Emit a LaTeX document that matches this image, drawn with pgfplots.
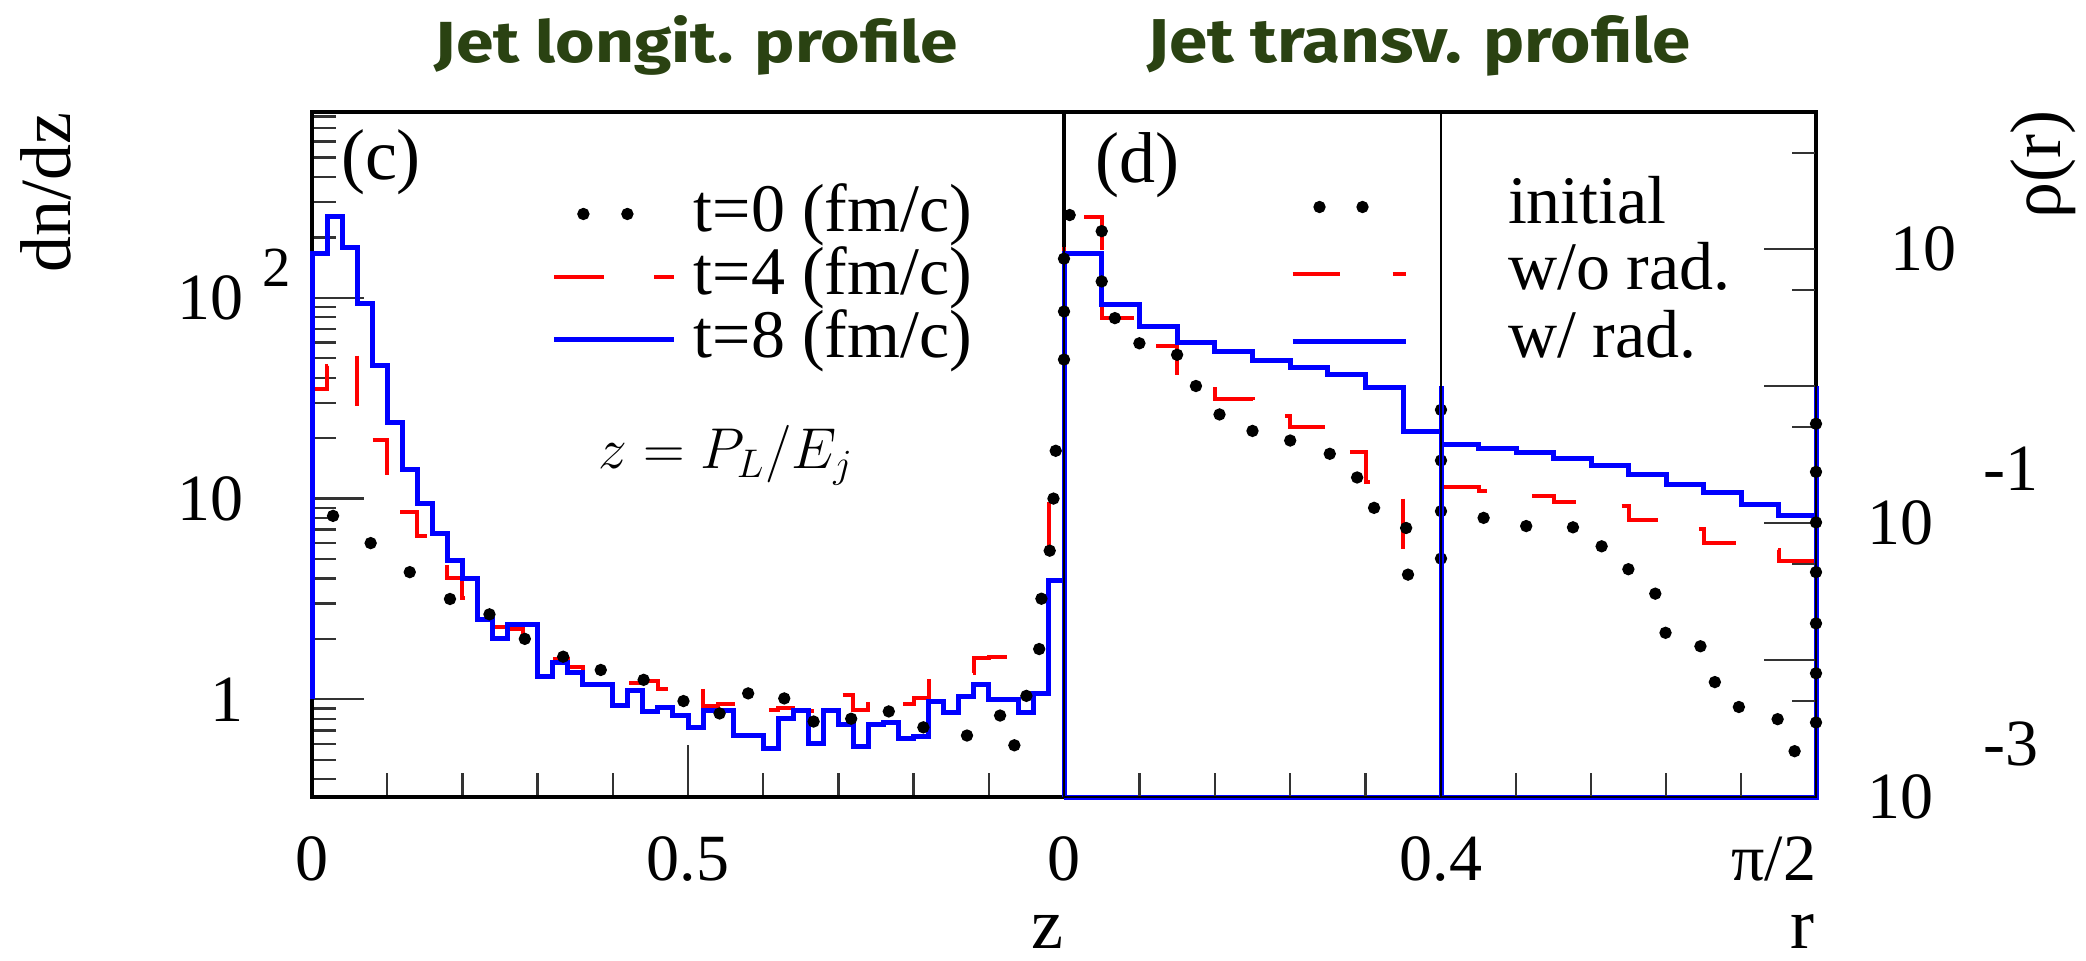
\documentclass[border=0pt]{standalone}
\usepackage{fontspec}
\setmainfont{Liberation Serif}
\newfontfamily\titlefont{Fira Sans}
\usepackage{graphicx}
\usepackage{pgfplots}
\pgfplotsset{compat=1.18}
\newlength\upx
\setlength\upx{0.3pt}
\definecolor{tgreen}{RGB}{42,66,18}
\newcommand\tickfont{\fontsize{19.8pt}{22pt}\selectfont}
\newcommand\labfont{\fontsize{21.6pt}{24pt}\selectfont}
\newcommand\legfont{\fontsize{20.4pt}{23pt}\selectfont}

\pgfplotsset{
  every axis/.append style={
    scale only axis, clip=false,
    tick align=inside,
    major tick length=52\upx, minor tick length=24\upx,
    every tick/.append style={line width=2.4\upx, black!80},
    xtick pos=left,
    xticklabel style={font=\tickfont, anchor=north, inner sep=0pt, yshift=-39\upx},
    yticklabel style={font=\tickfont, inner sep=0pt},
    legend cell align=left,
  },
  every axis legend/.append style={draw=none, fill=none, inner sep=0pt, outer sep=0pt, font=\legfont,
      anchor=north west, row sep=0pt},
  histb/.style={blue, line width=5\upx, const plot, forget plot},
  histr/.style={red, line width=4\upx, const plot, dash pattern=on 50\upx off 50\upx, forget plot},
  tdots/.style={only marks, mark=*, mark size=5.5\upx, mark options={draw=black, fill=black}, forget plot},
  dotsL/.style={legend image code/.code={
      \path[draw=none] (0pt,0pt) -- (120\upx,0pt);
      \fill[black] (29\upx,0pt) circle[radius=5.5\upx];
      \fill[black] (73\upx,0pt) circle[radius=5.5\upx];}},
  redL/.style={legend image code/.code={
      \draw[red, line width=4\upx, dash pattern=on 50\upx off 50\upx] (0pt,0pt) -- (120\upx,0pt);}},
  blueL/.style={legend image code/.code={
      \draw[blue, line width=5\upx] (0pt,0pt) -- (120\upx,0pt);}},
  dotsR/.style={legend image code/.code={
      \path[draw=none] (0pt,0pt) -- (113\upx,0pt);
      \fill[black] (27\upx,0pt) circle[radius=5.5\upx];
      \fill[black] (70\upx,0pt) circle[radius=5.5\upx];}},
  redR/.style={legend image code/.code={
      \draw[red, line width=4\upx, dash pattern=on 47\upx off 53\upx] (0pt,0pt) -- (113\upx,0pt);}},
  blueR/.style={legend image code/.code={
      \draw[blue, line width=5\upx] (0pt,0pt) -- (113\upx,0pt);}},
}

\begin{document}
\begin{tikzpicture}
\useasboundingbox (0,0) rectangle (2086\upx,960\upx);

% titles
\node[anchor=base west, inner sep=0pt, text=tgreen] at (434\upx,897\upx)
  {\resizebox{523\upx}{47\upx}{\titlefont\bfseries Jet longit. profile}};
\node[anchor=base west, inner sep=0pt, text=tgreen] at (1147\upx,897\upx)
  {\resizebox{543\upx}{47\upx}{\titlefont\bfseries Jet transv. profile}};

% outer frame of right panel
\draw[line width=4.5\upx] (1064\upx,163\upx) rectangle (1816\upx,848\upx);

% ---------------- left panel (c)
\begin{axis}[at={(312\upx,163\upx)}, anchor=south west, width=752\upx, height=685\upx,
  ymode=log,
  xmin=0, xmax=1, ymin=0.326, ymax=843,
  axis line style={line width=4\upx},
  xtick={0,0.5}, xticklabels={0,0.5},
  minor xtick={0.1,0.2,0.3,0.4,0.6,0.7,0.8,0.9},
  ytick pos=left,
  ytick={1,10,100},
  yticklabels={1,10,{10\rlap{\smash{\hspace{19\upx}\raisebox{33\upx}{\fontsize{17pt}{17pt}\selectfont 2}}}}},
  minor ytick={0.4,0.5,0.6,0.7,0.8,0.9,2,3,4,5,6,7,8,9,20,30,40,50,60,70,80,90,200,300,400,500,600,700,800},
  yticklabel style={anchor=east, xshift=-68\upx},
  legend style={at={(0.319,0.8964)}, anchor=north west, column sep=17\upx,
    nodes={inner sep=0pt, text height=49\upx, text depth=13\upx}},
  legend style={row sep=1\upx},
]
% t=4 (fm/c)
\addplot[histr] coordinates {
(0,1) (0,35) (0.02,46) (0.04,55) (0.06,27) (0.08,19.6) (0.10,12.2) (0.12,8.6) (0.14,6.5)
(0.16,5.4) (0.18,4.0) (0.20,3.2) (0.22,2.6) (0.24,2.3) (0.26,2.25) (0.28,1.62) (0.30,1.62)
(0.32,1.58) (0.34,1.45) (0.36,1.26) (0.38,1.26) (0.40,1.24) (0.42,1.2) (0.44,1.24) (0.46,1.12)
(0.48,1.15) (0.50,1.22) (0.52,0.93) (0.54,0.95) (0.56,1.0) (0.58,1.0) (0.60,0.88) (0.62,0.9)
(0.64,0.88) (0.66,0.87) (0.68,1.08) (0.70,1.05) (0.72,0.88) (0.74,1.05) (0.76,1.0) (0.78,0.95)
(0.80,1.02) (0.82,1.33) (0.84,1.35) (0.86,1.35) (0.88,1.6) (0.90,1.62) (0.92,1.62) (0.94,1.6)
(0.96,1.6) (0.98,10) (1.0,10)};
% t=8 (fm/c)
\addplot[histb] coordinates {
(0,1) (0,166) (0.02,255) (0.04,179) (0.06,94) (0.08,46) (0.10,24) (0.12,14) (0.14,9.4)
(0.16,6.7) (0.18,4.9) (0.20,4.0) (0.22,2.5) (0.24,2.0) (0.26,2.35) (0.28,2.35) (0.30,1.30)
(0.32,1.53) (0.34,1.36) (0.36,1.18) (0.38,1.18) (0.40,0.93) (0.42,1.10) (0.44,0.87) (0.46,0.91)
(0.48,0.83) (0.50,0.72) (0.52,0.88) (0.54,0.88) (0.56,0.66) (0.58,0.66) (0.60,0.57) (0.62,0.80)
(0.64,0.88) (0.66,0.60) (0.68,0.88) (0.70,0.75) (0.72,0.58) (0.74,0.75) (0.76,0.77) (0.78,0.64)
(0.80,0.65) (0.82,0.98) (0.84,0.86) (0.86,1.03) (0.88,1.18) (0.90,1.0) (0.92,1.0) (0.94,0.86)
(0.96,1.07) (0.98,3.9) (1.0,3.9) (1.0,0.326)};
% t=0 (fm/c)
\addplot[tdots] coordinates {
(0.028,8.2) (0.078,6.0) (0.130,4.3) (0.1835,3.16) (0.236,2.65) (0.283,2.0) (0.334,1.63)
(0.384,1.40) (0.441,1.25) (0.494,0.98) (0.542,0.85) (0.580,1.07) (0.628,1.01) (0.667,0.775)
(0.717,0.80) (0.767,0.87) (0.813,0.725) (0.871,0.66) (0.915,0.83) (0.934,0.59) (0.950,1.04)
(0.967,1.78) (0.970,3.17) (0.981,5.5) (0.986,10) (0.989,17.3)};
\addlegendimage{dotsL}
\addlegendimage{redL}
\addlegendimage{blueL}
\legend{t=0 (fm/c), t=4 (fm/c), t=8 (fm/c)}
\end{axis}

% ---------------- right panel (d), r in [0,0.4]
\begin{axis}[at={(1064\upx,163\upx)}, anchor=south west, width=377\upx, height=685\upx,
  ymode=log, axis on top,
  xmin=0, xmax=0.4, ymin=0.001, ymax=100,
  axis line style={line width=2.5\upx},
  xtick={0}, xticklabels={0}, minor xtick={0.08,0.16,0.24,0.32},
  ytick=\empty, yminorticks=false,
  legend style={at={(0.5995,0.9095)}, anchor=north west, column sep=100\upx,
    nodes={inner sep=0pt, text height=49\upx, text depth=17\upx}},
  legend style={row sep=1\upx},
]
\addplot[histr] coordinates {
(0,0.001) (0,17) (0.04,3.13) (0.08,1.97) (0.12,1.19) (0.16,0.81) (0.20,0.6) (0.24,0.50)
(0.28,0.33) (0.32,0.20) (0.36,0.054) (0.40,0.054)};
\addplot[histb] coordinates {
(0,0.001) (0,9.2) (0.04,3.94) (0.08,2.72) (0.12,2.09) (0.16,1.78) (0.20,1.53) (0.24,1.37)
(0.28,1.21) (0.32,0.98) (0.36,0.466) (0.40,0.466) (0.40,0.001) (0,0.001)};
\addplot[tdots] coordinates {
(0,1.56) (0,3.5) (0,8.5) (0.006,17.7) (0.04,13.5) (0.04,5.8) (0.054,3.13) (0.08,2.05)
(0.12,1.69) (0.14,1.0) (0.165,0.62) (0.2,0.47) (0.24,0.40) (0.282,0.32) (0.311,0.215)
(0.329,0.129) (0.363,0.092) (0.365,0.042) (0.4,0.67) (0.4,0.286) (0.4,0.122) (0.4,0.055)};
\addlegendimage{dotsR}
\addlegendimage{redR}
\addlegendimage{blueR}
\legend{initial, w/o rad., w/ rad.}
\end{axis}

% ---------------- right panel (d), r in [0.4,pi/2]
\begin{axis}[at={(1441\upx,163\upx)}, anchor=south west, width=375\upx, height=685\upx,
  ymode=log, axis on top,
  xmin=0.4, xmax=1.5708, ymin=0.001, ymax=100,
  axis line style={line width=2.5\upx},
  xtick={0.4,1.5708}, xticklabels={0.4,{\llap{π/2}}},
  minor xtick={0.6342,0.8683,1.1025,1.3366},
  ytick pos=right, yticklabel pos=right,
  ytick={0.001,0.01,0.1,1,10,100},
  yticklabels={{10\rlap{\smash{\hspace{50\upx}\raisebox{53\upx}{-3}}}},{},{10\rlap{\smash{\hspace{50\upx}\raisebox{54\upx}{-1}}}},{},{\hspace*{23\upx}10},{}},
  minor ytick={0.005,0.05,0.5,5,50},
  yticklabel style={anchor=west, xshift=51\upx},
]
\addplot[histr] coordinates {
(0.4,0.183) (0.5171,0.17) (0.6342,0.158) (0.7512,0.143) (0.8683,0.132) (0.9854,0.105)
(1.1025,0.09) (1.2196,0.072) (1.3366,0.0635) (1.4537,0.053) (1.5708,0.053)};
\addplot[histb] coordinates {
(0.4,0.001) (0.4,1.0) (0.4,0.375) (0.5171,0.347) (0.6342,0.326) (0.7512,0.297) (0.8683,0.261)
(0.9854,0.227) (1.1025,0.190) (1.2196,0.166) (1.3366,0.1375) (1.4537,0.113) (1.5708,0.113)
(1.5708,1.0) (1.5708,0.001) (0.4,0.001)};
\addplot[tdots] coordinates {
(0.533,0.109) (0.666,0.095) (0.812,0.093) (0.9015,0.0676) (0.985,0.046) (1.069,0.0305)
(1.101,0.0158) (1.21,0.0126) (1.255,0.0069) (1.33,0.00454) (1.451,0.0037) (1.504,0.00216)
(1.5708,0.53) (1.5708,0.236) (1.5708,0.101) (1.5708,0.0438) (1.5708,0.0185) (1.5708,0.008)
(1.5708,0.0035)};
\end{axis}

% labels and annotations
\node[font=\labfont, anchor=base west, rotate=90, inner sep=0pt] at (70\upx,687\upx) {dn/dz};
\node[font=\labfont, anchor=base west, rotate=90, inner sep=0pt] at (2060\upx,741\upx) {ρ(r)};
\node[font=\labfont, anchor=base, inner sep=0pt] at (1047\upx,12\upx) {z};
\node[font=\labfont, anchor=base, inner sep=0pt] at (1802\upx,12\upx) {r};
\node[font=\labfont, inner sep=0pt] at (381\upx,798\upx) {(c)};
\node[font=\labfont, inner sep=0pt] at (1137\upx,795\upx) {(d)};
\node[inner sep=0pt] at (726\upx,505\upx) {\fontsize{17.4pt}{20pt}\selectfont $z = P_L/E_j$};
\end{tikzpicture}
\end{document}
